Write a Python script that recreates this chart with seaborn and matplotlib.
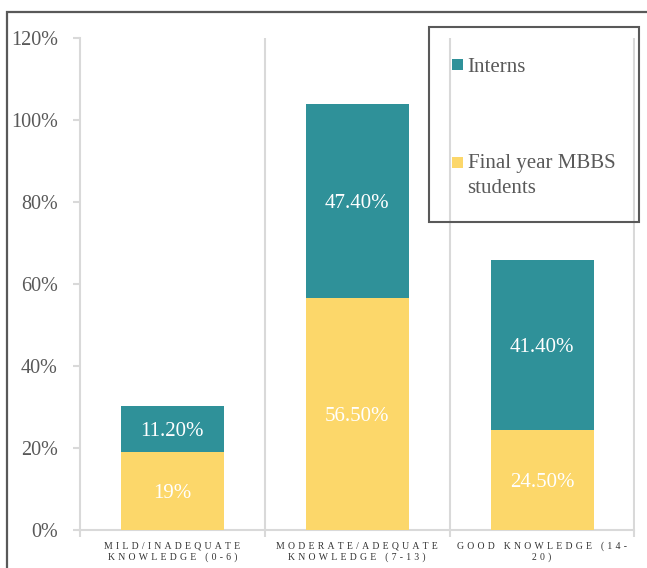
import matplotlib
matplotlib.use("Agg")
import matplotlib.pyplot as plt
from matplotlib.patches import Rectangle
import seaborn as sns
import pandas as pd

# --- data -------------------------------------------------------------
categories = [
    "MILD/INADEQUATE\nKNOWLEDGE (0-6)",
    "MODERATE/ADEQUATE\nKNOWLEDGE (7-13)",
    "GOOD KNOWLEDGE (14-\n20)",
]
final_year = [19.0, 56.5, 24.5]      # Final year MBBS students (%)
interns = [11.2, 47.4, 41.4]         # Interns (%)
series_names = ["Interns", "Final year MBBS\nstudents"]
y_ticks = [0, 20, 40, 60, 80, 100, 120]

TEAL = "#2F9199"
YELLOW = "#FCD76A"
GRID = "#D9D9D9"
TEXT = "#595959"

plt.rcParams["font.family"] = ["Liberation Serif", "DejaVu Serif"]

W, H = 647, 568


def fx(px):
    return px / W


def fy(py):
    return 1 - py / H


def fmt(v):
    return f"{v:.0f}%" if float(v).is_integer() else f"{v:.2f}%"


LETTER_GAP = "\u2004"  # three-per-em space


def spaced(label):
    # letter-spaced caption, wider gaps between words
    lines = []
    for line in label.split("\n"):
        words = [LETTER_GAP.join(w) for w in line.split(" ")]
        lines.append((LETTER_GAP + " " + LETTER_GAP).join(words))
    return "\n".join(lines)


df = pd.DataFrame({
    "category": categories,
    "final": final_year,
    "interns": interns,
})
df["total"] = df["final"] + df["interns"]

fig = plt.figure(figsize=(W / 100, H / 100), dpi=100)
ax = fig.add_axes([fx(80), 38 / H, (634.5 - 80) / W, (530 - 38) / H])

bar_w = 0.557
sns.barplot(data=df, x="category", y="total", color=TEAL, saturation=1,
            width=bar_w, linewidth=0, ax=ax, zorder=2)
sns.barplot(data=df, x="category", y="final", color=YELLOW, saturation=1,
            width=bar_w, linewidth=0, ax=ax, zorder=3)

# segment value labels
for i, row in df.iterrows():
    for y, v in [(row["final"] / 2, row["final"]),
                 (row["final"] + row["interns"] / 2, row["interns"])]:
        ax.annotate(fmt(v), (i, y), xytext=(0, -1.8), textcoords="offset points",
                    ha="center", va="center", color="white", fontsize=15,
                    zorder=4)

ax.set_xlim(-0.5, len(categories) - 0.5)
ax.set_ylim(0, 120)
ax.set_xlabel("")
ax.set_ylabel("")

ax.set_yticks(y_ticks)
ax.set_yticklabels([f"{t}%" for t in y_ticks])
ax.tick_params(axis="y", length=5, width=1.5, color=GRID, pad=11,
               labelsize=14.5, labelcolor=TEXT)

ax.set_xticks(range(len(categories)))
ax.set_xticklabels([spaced(c) for c in categories], fontsize=7,
                   color="#333333", linespacing=1.25)
ax.tick_params(axis="x", which="major", length=0, pad=8)
ax.set_xticks([i - 0.5 for i in range(len(categories) + 1)], minor=True)
ax.tick_params(axis="x", which="minor", length=5, width=1.5, color=GRID)

# vertical separators between categories
for b in [i + 0.5 for i in range(len(categories))]:
    ax.axvline(b, color=GRID, lw=1.5, zorder=0)

for s in ["top", "right"]:
    ax.spines[s].set_visible(False)
for s in ["left", "bottom"]:
    ax.spines[s].set_color(GRID)
    ax.spines[s].set_linewidth(1.5)
ax.set_facecolor("white")

# legend panel
fig.add_artist(Rectangle((fx(429), fy(222)), fx(639) - fx(429), fy(27) - fy(222),
                         transform=fig.transFigure, fill=False,
                         edgecolor=TEXT, lw=1.5, zorder=5))
legend_items = [(TEAL, series_names[0], 59, 72),
                (YELLOW, series_names[1], 157, 168)]
for color, name, top, base in legend_items:
    fig.add_artist(Rectangle((fx(452), fy(top + 11)), 11 / W, 11 / H,
                             transform=fig.transFigure, facecolor=color,
                             edgecolor="none", zorder=5))
    for k, line in enumerate(name.split("\n")):
        fig.text(fx(467.5), fy(base + 25 * k), line, fontsize=15,
                 color=TEXT, va="baseline", ha="left", zorder=5)

# chart frame
fig.add_artist(Rectangle((fx(7), -0.05), 1.2, fy(12) + 0.05,
                         transform=fig.transFigure, fill=False,
                         edgecolor=TEXT, lw=1.6, zorder=6))

fig.savefig("out.png", dpi=100, facecolor="white")
